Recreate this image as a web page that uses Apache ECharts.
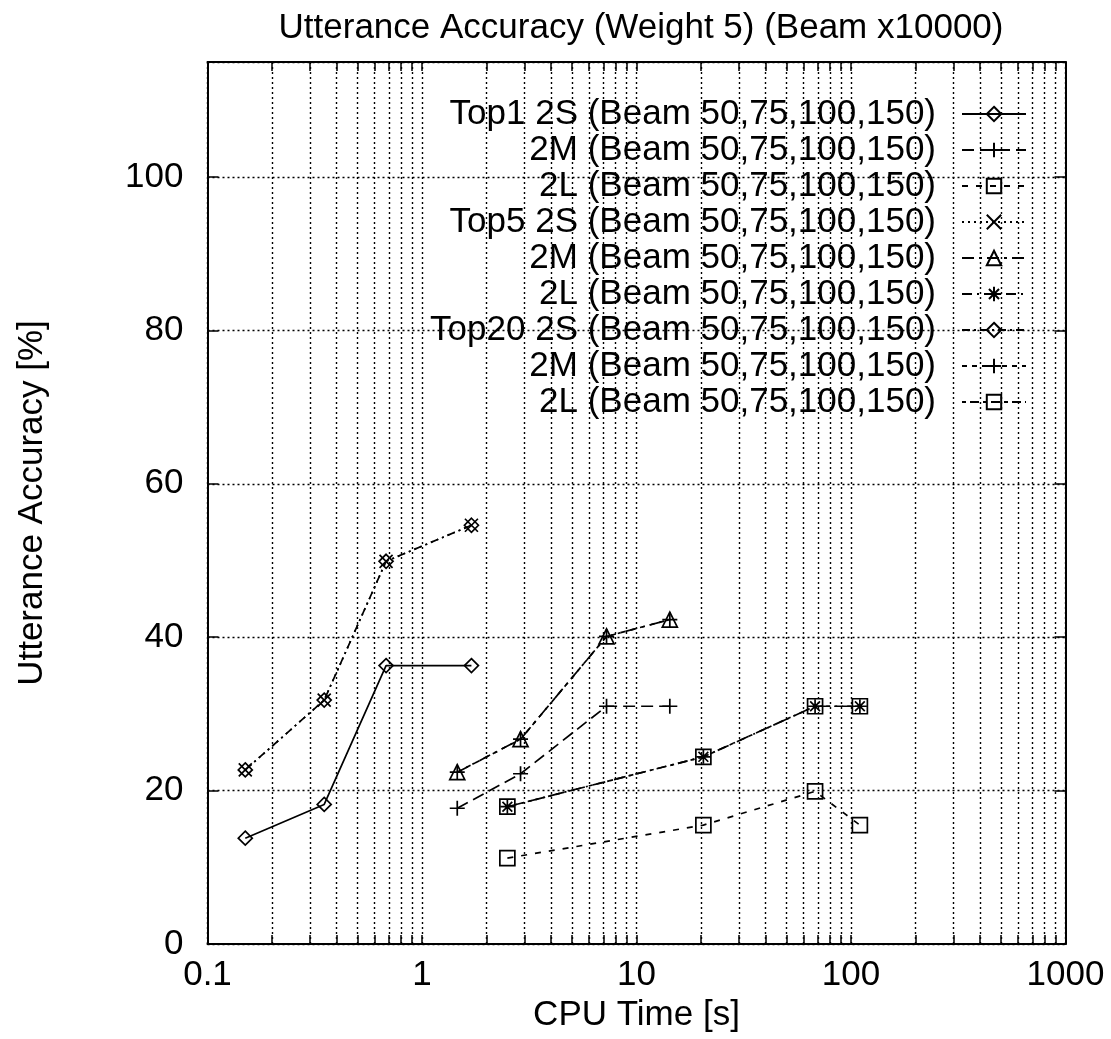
<!DOCTYPE html>
<html><head><meta charset="utf-8">
<script src="https://cdn.jsdelivr.net/npm/echarts@6/dist/echarts.min.js"></script>
<style>html,body{margin:0;padding:0;background:#fff}#c{width:1111px;height:1039px}</style>
</head><body><div id="c"></div>
<script>
// CPU time [s] for beam 50,75,100,150 per configuration
const beamX2S = [0.15, 0.35, 0.68, 1.7];
const beamX2M = [1.46, 2.88, 7.25, 14.3];
const beamX2L = [2.5, 20.5, 68, 110];
// Utterance accuracy [%]
const top1_2S = [13.8, 18.2, 36.3, 36.3];
const top1_2M = [17.7, 22.2, 31.0, 31.0];
const top1_2L = [11.2, 15.5, 19.9, 15.5];
const top5_2S = [22.7, 31.8, 49.9, 54.6];
const top5_2M = [22.4, 26.7, 40.1, 42.3];
const top5_2L = [17.9, 24.4, 31.0, 31.0];
const top20_2S = [22.7, 31.8, 49.9, 54.6];
const top20_2M = [22.4, 26.7, 40.1, 42.3];
const top20_2L = [17.9, 24.4, 31.0, 31.0];
const seriesNames = ['Top1 2S','Top1 2M','Top1 2L','Top5 2S','Top5 2M','Top5 2L','Top20 2S','Top20 2M','Top20 2L'];
const legendLabels = ['Top1 2S (Beam 50,75,100,150)','2M (Beam 50,75,100,150)','2L (Beam 50,75,100,150)',
  'Top5 2S (Beam 50,75,100,150)','2M (Beam 50,75,100,150)','2L (Beam 50,75,100,150)',
  'Top20 2S (Beam 50,75,100,150)','2M (Beam 50,75,100,150)','2L (Beam 50,75,100,150)'];
const xTickLabels = [0.1, 1, 10, 100, 1000];
const xGridValues = [0.1,0.2,0.3,0.4,0.5,0.6,0.7,0.8,0.9,1,2,3,4,5,6,7,8,9,10,20,30,40,50,60,70,80,90,100,200,300,400,500,600,700,800,900,1000];
const yTickLabels = [0, 20, 40, 60, 80, 100];

const FONT = '"Liberation Sans", Arial, Helvetica, sans-serif';
const PLUS = 'path://M0,5L10,5M5,0L5,10';
const CROSS = 'path://M0,0L10,10M10,0L0,10';
const STAR = 'path://M0,5L10,5M5,0L5,10M1.5,1.5L8.5,8.5M8.5,1.5L1.5,8.5';

const xsFor = [beamX2S, beamX2M, beamX2L, beamX2S, beamX2M, beamX2L, beamX2S, beamX2M, beamX2L];
const ysFor = [top1_2S, top1_2M, top1_2L, top5_2S, top5_2M, top5_2L, top20_2S, top20_2M, top20_2L];
const symbols = ['diamond', PLUS, 'rect', CROSS, 'triangle', STAR, 'diamond', PLUS, 'rect'];
const symSizes = [14, 15, 15, 13, 15, 14, 14, 15, 15];
const dashes = ['solid', [12,6], [6,8], [2,4], [12,5,3,5], [10,5,2,5], [8,4,2,4], [5,5], [4,4,9,4]];

const series = seriesNames.map((n, k) => ({
  name: n, type: 'line', xAxisIndex: 0, yAxisIndex: 0,
  data: xsFor[k].map((x, i) => [x, ysFor[k][i]]),
  symbol: symbols[k], symbolSize: symSizes[k], showAllSymbol: true,
  itemStyle: { color: 'rgba(255,255,255,0)', borderColor: '#000', borderWidth: 1.7 },
  lineStyle: { color: '#000', width: 1.7, type: dashes[k] },
  emphasis: { disabled: true }, z: 3
}));

const tickCommon = { show: true, inside: true, length: 9, lineStyle: { color: '#000', width: 1.5 } };
const gridLine = { show: true, lineStyle: { type: [2, 3], color: '#000', width: 1.4 } };
const chart = echarts.init(document.getElementById('c'), null, { renderer: 'canvas' });
chart.setOption({
  animation: false,
  backgroundColor: '#fff',
  title: { text: 'Utterance Accuracy (Weight 5) (Beam x10000)', left: 636, top: 6, textAlign: 'center',
    textStyle: { fontFamily: FONT, fontSize: 35, fontWeight: 'normal', color: '#000' } },
  grid: { left: 207.5, right: 45.5, top: 62, bottom: 95, show: false },
  legend: { orient: 'vertical', right: 84, top: 96, align: 'right', itemWidth: 64, itemHeight: 18, itemGap: 0,
    padding: 0, selectedMode: false, data: seriesNames,
    formatter: n => legendLabels[seriesNames.indexOf(n)],
    textStyle: { fontFamily: FONT, fontSize: 35, color: '#000', lineHeight: 36, padding: [0, 21, 0, 0] } },
  xAxis: [{
    type: 'log', logBase: 10, min: 0.1, max: 1000, position: 'bottom',
    axisLine: { show: true, onZero: false, lineStyle: { color: '#000', width: 2 } },
    axisTick: Object.assign({ customValues: xGridValues }, tickCommon),
    minorTick: { show: false },
    axisLabel: { customValues: xTickLabels, formatter: v => String(Math.round(v * 10) / 10),
      fontFamily: FONT, fontSize: 35, color: '#000', margin: 14 },
    splitLine: gridLine,
    name: 'CPU Time [s]', nameLocation: 'middle', nameGap: 50,
    nameTextStyle: { fontFamily: FONT, fontSize: 35, color: '#000' }
  }, {
    type: 'log', logBase: 10, min: 0.1, max: 1000, position: 'top',
    axisLine: { show: true, onZero: false, lineStyle: { color: '#000', width: 2 } },
    axisTick: Object.assign({ customValues: xGridValues }, tickCommon),
    axisLabel: { show: false }, splitLine: { show: false }
  }],
  yAxis: [{
    type: 'value', min: 0, max: 115, interval: 20, position: 'left',
    axisLine: { show: true, onZero: false, lineStyle: { color: '#000', width: 2 } },
    axisTick: Object.assign({}, tickCommon, { length: 11 }),
    axisLabel: { formatter: v => (yTickLabels.indexOf(v) >= 0 ? String(v) : ''), showMaxLabel: false,
      fontFamily: FONT, fontSize: 35, color: '#000', margin: 24 },
    splitLine: gridLine,
    name: 'Utterance Accuracy [%]', nameLocation: 'middle', nameGap: 158, nameRotate: 90,
    nameTextStyle: { fontFamily: FONT, fontSize: 35, color: '#000' }
  }, {
    type: 'value', min: 0, max: 115, interval: 20, position: 'right',
    axisLine: { show: true, onZero: false, lineStyle: { color: '#000', width: 2 } },
    axisTick: Object.assign({}, tickCommon, { length: 11 }),
    axisLabel: { show: false }, splitLine: { show: false }
  }],
  series: series
});
</script></body></html>
